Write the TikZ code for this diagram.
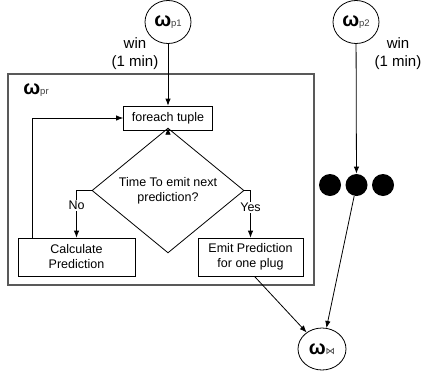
\documentclass[tikz,border=0pt]{standalone}
\usepackage{fontspec}
\setmainfont{Liberation Sans}
\newfontfamily\symfont{DejaVu Sans}
\usetikzlibrary{shapes.geometric,arrows.meta}
\newcommand{\om}[1]{{\fontsize{20}{20}\selectfont\bfseries ω}{\fontsize{9.5}{9.5}\selectfont\color{black!75}#1}}
\begin{document}
\begin{tikzpicture}[x=1pt,y=-1pt,font=\fontsize{12.5}{15}\selectfont,line width=0.8pt,>={Latex[length=7pt,width=5.5pt]}]
       \tikzstyle{opnode}=[draw, ellipse, minimum width=46, minimum height=43, inner sep=0]
       \tikzstyle{stepbox}=[draw, align=center, inner sep=2pt]
       \tikzstyle{dotnode}=[circle, fill=black, minimum size=22, inner sep=0]
       \tikzstyle{winlabel}=[align=center, font=\fontsize{15}{18}\selectfont]
       \tikzstyle{branch}=[fill=white, inner sep=1pt]
       \useasboundingbox (0,0) rectangle (422,372);
       \node[draw=black!65, line width=1.1pt, minimum width=306, minimum height=211, inner sep=0] (pr) at (161,179.5) {};
       \node (prlabel) at (36,90) {\om{pr}};
       \node[opnode] (p1) at (168,22) {\om{p1}};
       \node[opnode] (p2) at (356,22) {\om{p2}};
       \node[opnode, minimum width=48, minimum height=42] (join) at (322,349) {\om{\symfont ⋈}};
       \node[winlabel] (win1) at (135,54) {win\\(1 min)};
       \node[winlabel] (win2) at (398,54) {win\\(1 min)};
       \node[stepbox, minimum width=89, minimum height=24] (tuple) at (168,118) {foreach tuple};
       \node[draw, diamond, minimum width=152, minimum height=95, inner sep=0, align=center] (test) at (168,190.5) {Time To emit next\\prediction?};
       \node[stepbox, minimum width=117, minimum height=38] (calc) at (76.5,257) {Calculate\\Prediction};
       \node[stepbox, minimum width=105, minimum height=38] (emit) at (250.5,257) {Emit Prediction\\for one plug};
       \node[dotnode] (dot1) at (330,185) {};
       \node[dotnode] (dot2) at (356.5,185) {};
       \node[dotnode] (dot3) at (383,185) {};
       \draw[->] (p1) -- (tuple);
       \draw[->] (tuple) -- (test);
       \draw[->] (test.west) -| node[branch, pos=0.66] {No} (calc.north);
       \draw[->] (test.east) -| node[branch, pos=0.68] {Yes} (emit.north);
       \draw[->] ([xshift=15pt]calc.north west) |- (tuple.west);
       \draw[->] (p2) -- (dot2);
       \draw[->] (dot2) -- (join);
       \draw[->] ([xshift=4pt]emit.south) -- (join);
      \end{tikzpicture}
\end{document}
